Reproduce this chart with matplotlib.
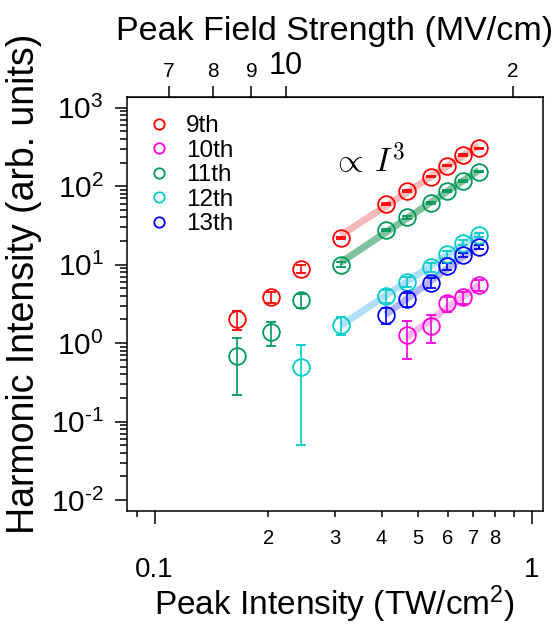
import numpy as np
import matplotlib
matplotlib.use("Agg")
import matplotlib.pyplot as plt
from matplotlib.ticker import FixedLocator, FixedFormatter, NullFormatter
from matplotlib.lines import Line2D

plt.rcParams['font.family'] = ['Liberation Sans', 'DejaVu Sans']
plt.rcParams['mathtext.fontset'] = 'custom'
plt.rcParams['mathtext.rm'] = 'Liberation Sans'
plt.rcParams['mathtext.it'] = 'Liberation Sans:italic'
plt.rcParams['mathtext.bf'] = 'Liberation Sans:bold'

# Peak intensity (TW/cm^2) and harmonic yields with symmetric errors
h9_x = [0.165, 0.203, 0.245, 0.312, 0.41, 0.466, 0.54, 0.597, 0.658, 0.725]
h9_y = [2.03, 3.83, 8.8, 22.0, 58.7, 87.5, 132, 182, 250, 304]
h9_err = [0.57, 0.62, 1.07, 0.8, 1.6, 2.2, 3.0, 4.0, 5.0, 6.0]

h10_x = [0.466, 0.54, 0.597, 0.658, 0.725]
h10_y = [1.27, 1.65, 3.22, 3.83, 5.50]
h10_err = [0.64, 0.64, 0.70, 0.65, 0.93]

h11_x = [0.165, 0.203, 0.245, 0.312, 0.41, 0.466, 0.54, 0.597, 0.658, 0.725]
h11_y = [0.69, 1.40, 3.54, 10.0, 27.6, 40.1, 60.5, 87.5, 117, 153]
h11_err = [0.47, 0.48, 0.73, 0.7, 1.0, 1.5, 2.0, 2.5, 3.0, 3.5]

h12_x = [0.245, 0.312, 0.41, 0.466, 0.54, 0.597, 0.658, 0.725]
h12_y = [0.50, 1.70, 3.98, 6.01, 9.25, 13.7, 19.0, 23.9]
h12_err = [0.45, 0.43, 0.74, 0.9, 1.3, 1.4, 1.3, 1.7]

h13_x = [0.41, 0.466, 0.54, 0.597, 0.658, 0.725]
h13_y = [2.28, 3.65, 5.89, 9.52, 13.2, 16.6]
h13_err = [0.52, 0.73, 0.9, 1.0, 0.8, 1.0]

labels = ['9th', '10th', '11th', '12th', '13th']
colors = ['#ff0000', '#ff00dd', '#00995a', '#00cccc', '#0000ff']
band_colors = ['#f08080', '#f070e0', '#2e9a5e', '#55b8f0', '#6a6af5']
band_alpha = [0.55, 0.5, 0.6, 0.45, 0.5]
fit_start = [0.312, 0.466, 0.312, 0.312, 0.41]

y_ticks = [1e-2, 1e-1, 1, 1e1, 1e2, 1e3]
y_ticklabels = [r'$10^{‐2}$', r'$10^{‐1}$', r'$10^{0}$', r'$10^{1}$', r'$10^{2}$', r'$10^{3}$']

series = [(h9_x, h9_y, h9_err), (h10_x, h10_y, h10_err), (h11_x, h11_y, h11_err),
          (h12_x, h12_y, h12_err), (h13_x, h13_y, h13_err)]

# conversion between intensity (TW/cm^2) and peak field (MV/cm)
FIELD_COEF = 21.18


def to_field(i):
    return FIELD_COEF * np.sqrt(np.clip(i, 1e-12, None))


def to_intensity(e):
    return (np.asarray(e) / FIELD_COEF) ** 2


fig = plt.figure(figsize=(5.6, 6.25), dpi=100)
ax = fig.add_axes([0.2273, 0.1829, 0.7418, 0.6624])
ax.set_xscale('log')
ax.set_yscale('log')
ax.set_xlim(0.0846, 1.07)
ax.set_ylim(10 ** -2.136, 10 ** 3.14)

# power-law fits on the high-intensity points
for (x, y, e), c, a, x0 in zip(series, band_colors, band_alpha, fit_start):
    x = np.asarray(x)
    y = np.asarray(y)
    m = x >= x0 - 1e-9
    p = np.polyfit(np.log10(x[m]), np.log10(y[m]), 1)
    xf = np.array([x[m].min(), x[m].max()])
    ax.plot(xf, 10 ** np.polyval(p, np.log10(xf)), color=c, alpha=a,
            lw=5, solid_capstyle='butt', zorder=1)

for (x, y, e), c in zip(series, colors):
    ax.errorbar(x, y, yerr=e, fmt='o', ms=12, mfc='none', mec=c, mew=1.3,
                ecolor=c, elinewidth=1.2, capsize=3.6, capthick=1.2, zorder=3)

handles = [Line2D([], [], ls='none', marker='o', ms=7.5, mfc='none', mec=c, mew=1.3)
           for c in colors]
ax.legend(handles, labels, loc='upper left', bbox_to_anchor=(0.046, 0.955),
          frameon=False, fontsize=17.5, handlelength=1.0, handletextpad=0.62,
          labelspacing=0.1, borderaxespad=0, borderpad=0)

ax.text(0.492, 0.843, r'$\propto\,I^3$', transform=ax.transAxes, fontsize=24,
        math_fontfamily='cm', ha='left', va='center')

for s in ax.spines.values():
    s.set_linewidth(1.1)

# bottom axis ticks
ax.xaxis.set_major_locator(FixedLocator([0.1, 1]))
ax.xaxis.set_major_formatter(FixedFormatter(['0.1', '1']))
minor_x = [0.09, 0.2, 0.3, 0.4, 0.5, 0.6, 0.7, 0.8, 0.9]
ax.xaxis.set_minor_locator(FixedLocator(minor_x))
ax.xaxis.set_minor_formatter(FixedFormatter(['', '2', '3', '4', '5', '6', '7', '8', '']))
ax.tick_params(axis='x', which='major', length=9, width=1.1, labelsize=20, pad=24)
ax.tick_params(axis='x', which='minor', length=4.5, width=1.1, labelsize=14.5, pad=9)

# left axis ticks
ax.yaxis.set_major_locator(FixedLocator(y_ticks))
ax.yaxis.set_major_formatter(FixedFormatter(y_ticklabels))
minor_y = [m * 10.0 ** k for k in range(-2, 3) for m in range(2, 10)]
ax.yaxis.set_minor_locator(FixedLocator(minor_y))
ax.yaxis.set_minor_formatter(NullFormatter())
ax.tick_params(axis='y', which='major', length=9, width=1.1, labelsize=21.5, pad=8)
ax.tick_params(axis='y', which='minor', length=5, width=1.1)

ax.set_xlabel('Peak Intensity (TW/cm$^2$)', fontsize=24)
ax.xaxis.set_label_coords(0.5, -0.176)
ax.set_ylabel('Harmonic Intensity (arb. units)', fontsize=27)
ax.yaxis.set_label_coords(-0.205, 0.5476)

# top axis: peak field strength
sec = ax.secondary_xaxis('top', functions=(to_field, to_intensity))
sec.set_xticks([7, 8, 9, 10, 20])
sec.set_xticklabels(['7', '8', '9', '10', '2'])
sec.xaxis.set_minor_locator(FixedLocator([]))
sec.tick_params(axis='x', which='major', length=8, width=1.1, labelsize=15, pad=3)
for t in sec.get_xticklabels():
    if t.get_text() == '10':
        t.set_fontsize(22)
sec.set_xlabel('Peak Field Strength (MV/cm)', fontsize=24.5, labelpad=8)

fig.savefig('out.png', dpi=100)
